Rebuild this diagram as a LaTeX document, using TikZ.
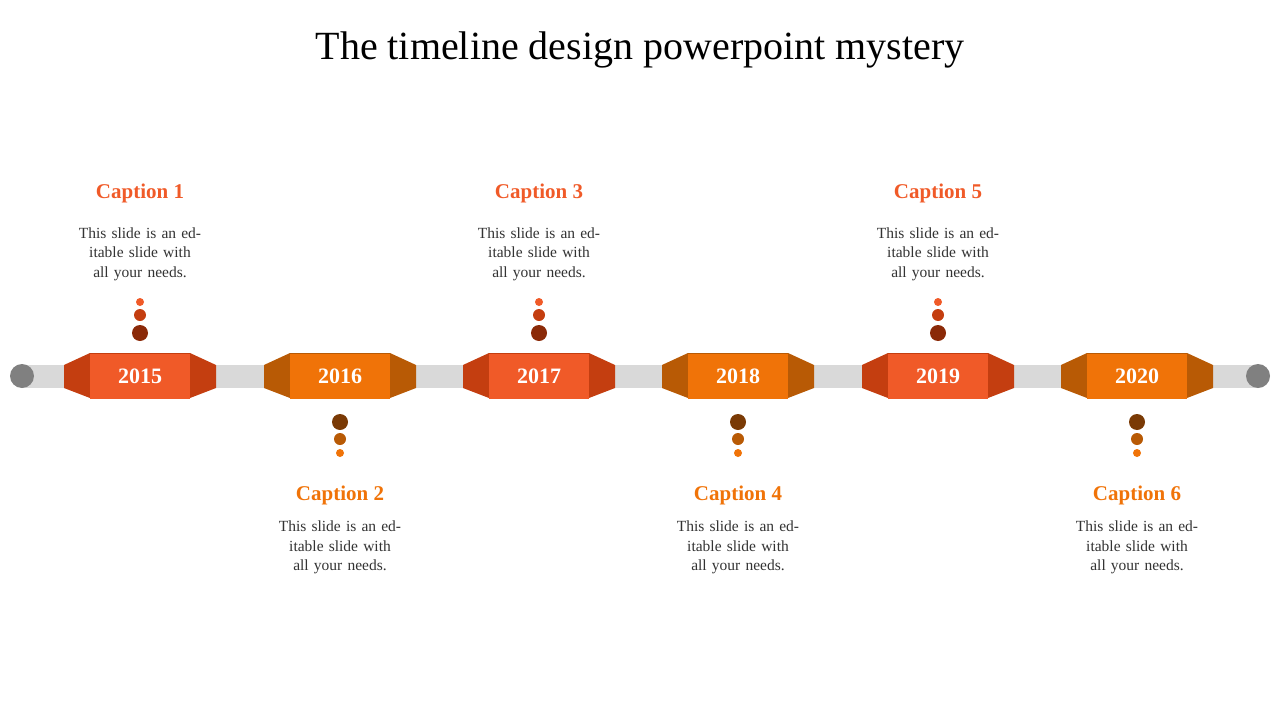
\documentclass[tikz,border=0pt]{standalone}
\usepackage{fontspec}
\setmainfont{Liberation Serif}
\usetikzlibrary{positioning}
\definecolor{oddmain}{HTML}{F05A28}
\definecolor{oddside}{HTML}{C43E10}
\definecolor{odddark}{HTML}{8B2A08}
\definecolor{evenmain}{HTML}{F07308}
\definecolor{evenside}{HTML}{B85A05}
\definecolor{evendark}{HTML}{7A3A05}
\definecolor{bar}{HTML}{D9D9D9}
\definecolor{endcap}{HTML}{808080}
\begin{document}
\begin{tikzpicture}[x=1pt,y=-1pt]
        \tikzstyle{every node}=[inner sep=0pt]
        \tikzstyle{year}=[minimum width=100pt,minimum height=45pt,text=white,font=\fontsize{22}{22}\selectfont\bfseries]
        \tikzstyle{caption}=[font=\fontsize{21}{21}\selectfont\bfseries]
        \tikzstyle{body}=[align=center,text width=160pt,font=\fontsize{15.5}{19.5}\selectfont,text=black!80]
        \tikzstyle{dot}=[circle,minimum size=#1]

        \useasboundingbox (0,0) rectangle (1280,720);
        \node[font=\fontsize{40}{40}\selectfont] (title) at (640,50) {The timeline design powerpoint mystery};

        \fill[bar] (22,365) rectangle (1258,388);
        \node[dot=24pt,fill=endcap] (leftend) at (22,376) {};
        \node[dot=24pt,fill=endcap] (rightend) at (1258,376) {};

        \foreach \i/\x/\yr in {1/140/2015,3/539/2017,5/938/2019} {
            \fill[oddside] (\x-76,365) -- (\x-50,353) -- (\x+50,353) -- (\x+76,365)
                -- (\x+76,388) -- (\x+50,398) -- (\x-50,398) -- (\x-76,388) -- cycle;
            \node[year,fill=oddmain] (y\i) at (\x,376) {\yr};
            \node[dot=16pt,fill=odddark] (big\i) at (\x,333) {};
            \node[dot=12pt,fill=oddside] (mid\i) at (\x,315) {};
            \node[dot=8pt,fill=oddmain] (small\i) at (\x,302) {};
            \node[body,above=17pt of small\i] (text\i) {This slide is an editable slide with all your needs.};
            \node[caption,text=oddmain] (cap\i) at (\x,193) {Caption \i};
        };
        \foreach \i/\x/\yr in {2/340/2016,4/738/2018,6/1137/2020} {
            \fill[evenside] (\x-76,365) -- (\x-50,353) -- (\x+50,353) -- (\x+76,365)
                -- (\x+76,388) -- (\x+50,398) -- (\x-50,398) -- (\x-76,388) -- cycle;
            \node[year,fill=evenmain] (y\i) at (\x,376) {\yr};
            \node[dot=16pt,fill=evendark] (big\i) at (\x,422) {};
            \node[dot=12pt,fill=evenside] (mid\i) at (\x,439) {};
            \node[dot=8pt,fill=evenmain] (small\i) at (\x,453) {};
            \node[caption,text=evenmain] (cap\i) at (\x,495) {Caption \i};
            \node[body,below=16pt of cap\i] (text\i) {This slide is an editable slide with all your needs.};
        };
\end{tikzpicture}
\end{document}
